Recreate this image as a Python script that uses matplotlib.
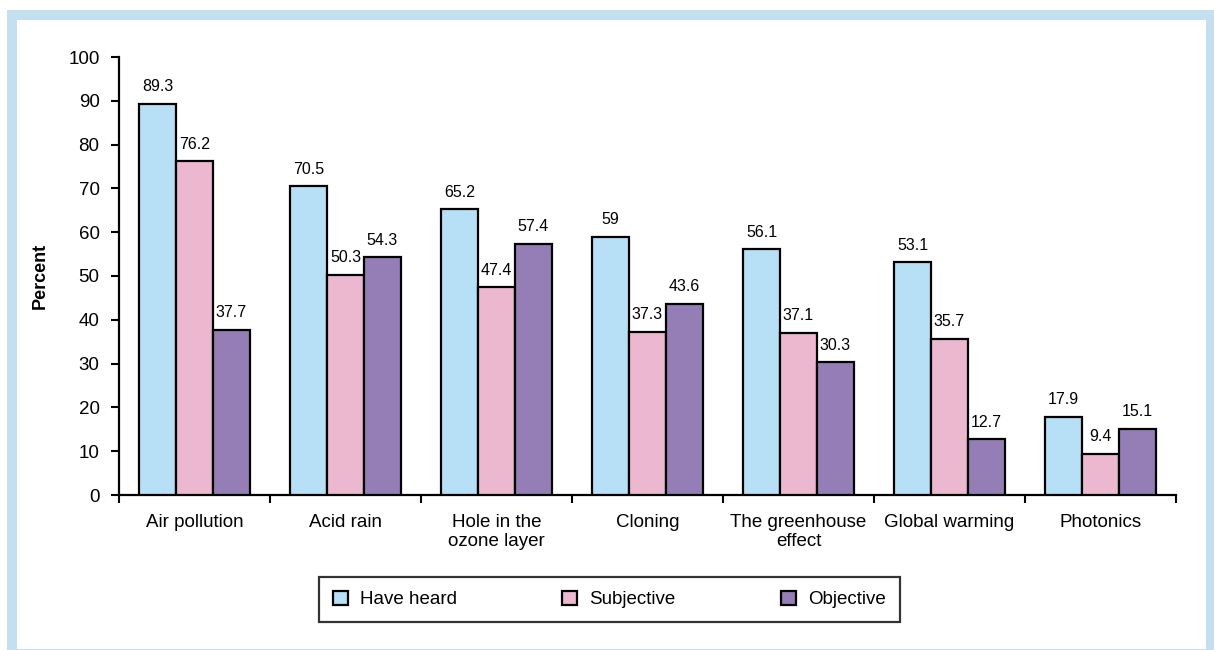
import matplotlib
matplotlib.use("Agg")
import matplotlib.pyplot as plt
from matplotlib.patches import Rectangle
from matplotlib import font_manager
import numpy as np

categories = ["Air pollution", "Acid rain", "Hole in the\nozone layer", "Cloning",
              "The greenhouse\neffect", "Global warming", "Photonics"]
have_heard = [89.3, 70.5, 65.2, 59, 56.1, 53.1, 17.9]
subjective = [76.2, 50.3, 47.4, 37.3, 37.1, 35.7, 9.4]
objective = [37.7, 54.3, 57.4, 43.6, 30.3, 12.7, 15.1]
series_names = ["Have heard", "Subjective", "Objective"]
colors = ["#B7DFF6", "#EBB8CF", "#957DB5"]

available = {f.name for f in font_manager.fontManager.ttflist}
family = "Liberation Sans Narrow" if "Liberation Sans Narrow" in available else "Liberation Sans"
plt.rcParams["font.family"] = [family, "DejaVu Sans"]

W, H = 1214, 650
fig = plt.figure(figsize=(W / 100, H / 100), dpi=100)
fig.patch.set_facecolor("white")

# light blue frame around the chart
fig.patches.append(Rectangle((7 / W, 0), 1 - 7 / W, 1 - 10 / H,
                             transform=fig.transFigure, facecolor="#C4DFEF",
                             edgecolor="none", zorder=-10))
fig.patches.append(Rectangle((17 / W, 1 / H), (1206 - 17) / W, (650 - 20 - 1) / H,
                             transform=fig.transFigure, facecolor="white",
                             edgecolor="none", zorder=-9))

ax = fig.add_axes([119 / W, 1 - 495 / H, (1176 - 119) / W, (495 - 57) / H])
ax.set_facecolor("none")

x = np.arange(len(categories))
bw = 0.245
for i, (vals, name, c) in enumerate(zip([have_heard, subjective, objective], series_names, colors)):
    pos = x + (i - 1) * bw
    ax.bar(pos, vals, width=bw, color=c, edgecolor="black", linewidth=1.6,
           label=name, zorder=3)
    for p, v in zip(pos, vals):
        ax.text(p, v + 2.2, f"{v:g}", ha="center", va="bottom", fontsize=11.5)

ax.set_xlim(-0.5, len(categories) - 0.5)
ax.set_ylim(0, 100)
ax.set_yticks(np.arange(0, 101, 10))
ax.tick_params(axis="y", labelsize=13.5, length=6, width=1.5, direction="out", pad=8)
ax.set_xticks(np.arange(-0.5, len(categories), 1.0))
ax.set_xticklabels([])
ax.tick_params(axis="x", length=6, width=1.5, direction="out")
ax.set_xticks(x, minor=True)
ax.set_xticklabels(categories, minor=True, fontsize=13.5, linespacing=1.15)
ax.tick_params(axis="x", which="minor", length=0, pad=14)

for s in ["top", "right"]:
    ax.spines[s].set_visible(False)
for s in ["left", "bottom"]:
    ax.spines[s].set_linewidth(1.6)

ax.set_ylabel("Percent", fontsize=13, fontweight="bold", labelpad=14)

leg = fig.legend(loc="center", bbox_to_anchor=((315 + 904) / 2 / W, 1 - 599.5 / H),
                 ncol=3, frameon=True, fontsize=13.5, handlelength=0.8, handleheight=0.8,
                 columnspacing=5.6, borderpad=0.75, borderaxespad=0,
                 handletextpad=0.65, fancybox=False)
leg.get_frame().set_edgecolor("black")
leg.get_frame().set_linewidth(1.6)

fig.savefig("out.png", dpi=100)
